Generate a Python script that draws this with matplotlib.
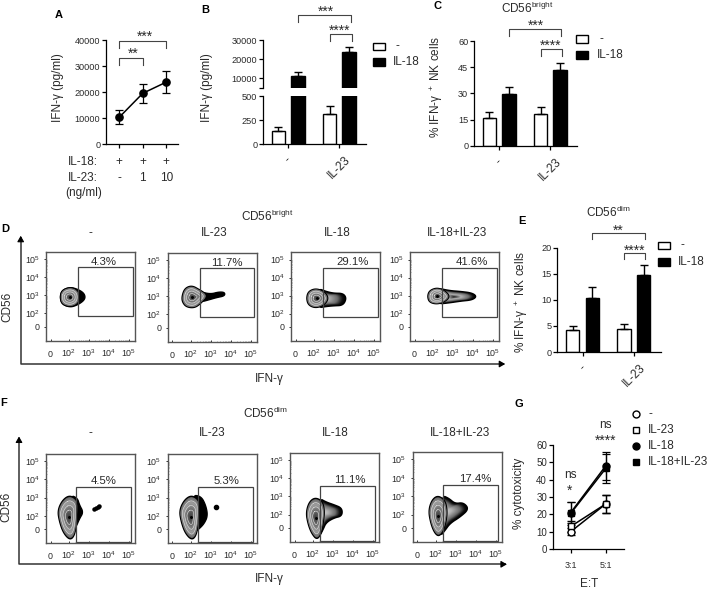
#!/usr/bin/env python3
"""Multi-panel IFN-gamma / NK cell figure: dose line, bar panels, flow contour grids, cytotoxicity."""
import numpy as np
import matplotlib
matplotlib.use("Agg")
import matplotlib.pyplot as plt
from matplotlib.patches import Rectangle

plt.rcParams["font.family"] = ["Liberation Sans", "DejaVu Sans"]
plt.rcParams["mathtext.default"] = "regular"
plt.rcParams["axes.unicode_minus"] = False
W, H = 708, 590
INK = "#2a2a2a"

# --- panel A
a_x = [0, 1, 2]
a_mean = [10300, 19500, 23800]
a_err = [2600, 3600, 4200]
a_il18 = ["+", "+", "+"]
a_il23 = ["-", "1", "10"]
# --- bar panels: (-, IL-18) at each of the two groups
groups = ["-", "IL-23"]
b_white, b_white_err = [135, 310], [40, 90]
b_black, b_black_err = [11300, 23500], [2200, 2900]
c_white, c_white_err = [15.8, 18.0], [3.7, 4.0]
c_black, c_black_err = [29.5, 43.5], [4.0, 4.0]
e_white, e_white_err = [4.2, 4.5], [0.8, 0.9]
e_black, e_black_err = [10.3, 14.8], [2.1, 1.9]
# --- panel G
g_x = [0, 1]
g_labels = ["3:1", "5:1"]
g_none, g_none_err = [10, 26], [2, 5]
g_il23, g_il23_err = [13, 26], [3, 5]
g_il18, g_il18_err = [21, 48], [6, 8]
g_both, g_both_err = [20.5, 46.5], [6.5, 8.5]
# --- flow panels, axes in decades
flow_titles = ["-", "IL-23", "IL-18", "IL-18+IL-23"]
d_pct = ["4.3%", "11.7%", "29.1%", "41.6%"]
f_pct = ["4.5%", "5.3%", "11.1%", "17.4%"]
d_gate = (2.47, 5.18, 1.83, 4.55)
f_gate = (2.37, 5.11, 0.55, 3.58)
d_pct_x = [3.73, 3.83, 3.95, 3.93]
f_pct_x = [3.73, 3.78, 3.85, 4.00]

d1_outer = ([1.55, 1.66, 2.05, 2.4, 2.72, 2.82, 2.72, 2.4, 2.05, 1.66], [2.9, 3.28, 3.45, 3.35, 3.15, 2.9, 2.68, 2.45, 2.33, 2.5])
d1_core = ([1.55, 1.64, 2.05, 2.42, 2.55, 2.42, 2.05, 1.64], [2.9, 3.28, 3.45, 3.3, 2.9, 2.5, 2.35, 2.5])
d2_outer = ([2.5, 3.0, 3.4, 3.7, 3.7, 3.3, 2.9, 2.5], [3.24, 3.12, 3.24, 3.22, 3.02, 2.93, 2.8, 2.68])
d2_core = ([1.56, 1.7, 2.05, 2.42, 2.88, 2.52, 2.2, 1.78, 1.58], [3.0, 3.44, 3.6, 3.38, 3.05, 2.62, 2.35, 2.4, 2.68])
d3_outer = ([2.2, 2.6, 3.0, 3.45, 3.62, 3.45, 3.0, 2.6, 2.2], [3.4, 3.22, 3.12, 3.12, 2.85, 2.46, 2.44, 2.4, 2.32])
d3_core = ([1.62, 1.72, 2.1, 2.52, 2.74, 2.52, 2.1, 1.72], [2.85, 3.24, 3.4, 3.22, 2.85, 2.48, 2.3, 2.46])
d4_outer = ([2.2, 2.8, 3.4, 3.95, 4.18, 3.95, 3.4, 2.8, 2.2], [3.42, 3.27, 3.22, 3.14, 2.95, 2.76, 2.7, 2.6, 2.53])
d4_core = ([1.72, 1.82, 2.2, 2.58, 2.86, 2.58, 2.2, 1.82], [2.95, 3.28, 3.44, 3.28, 2.95, 2.65, 2.52, 2.62])
f1_outer = ([2.05, 2.42, 2.52, 2.72, 2.52, 2.35, 2.05], [3.14, 2.98, 2.6, 2.2, 1.83, 1.38, 0.98])
f1_core = ([2.05, 1.68, 1.43, 1.52, 1.72, 2.05, 2.28, 2.38, 2.43, 2.43], [3.14, 2.88, 2.3, 1.68, 1.05, 0.66, 0.92, 1.6, 2.2, 2.84])
f2_outer = ([2.05, 2.52, 2.76, 2.85, 2.68, 2.42, 2.05], [3.14, 3.08, 2.56, 2.0, 1.58, 1.28, 0.98])
f3_outer = ([2.3, 2.65, 3.05, 3.45, 3.45, 3.05, 2.65, 2.5, 2.3], [2.9, 2.68, 2.53, 2.35, 1.92, 1.82, 1.56, 1.18, 0.76])
f3_core = ([2.1, 1.8, 1.65, 1.75, 1.93, 2.2, 2.42, 2.52, 2.58, 2.47], [2.94, 2.68, 2.1, 1.48, 0.96, 0.6, 0.98, 1.6, 2.2, 2.74])
f4_outer = ([2.3, 2.65, 2.97, 3.38, 3.66, 3.22, 2.72, 2.45, 2.2], [3.04, 2.88, 2.58, 2.65, 2.3, 1.87, 1.53, 1.12, 0.8])
f4_core = ([2.1, 1.8, 1.64, 1.75, 1.93, 2.15, 2.37, 2.52, 2.58, 2.47], [3.04, 2.78, 2.2, 1.53, 1.02, 0.8, 1.08, 1.6, 2.2, 2.78])
f1_dots_x, f1_dots_y = [3.25, 3.36, 3.47, 3.48], [2.36, 2.42, 2.48, 2.56]
f2_dots_x, f2_dots_y = [3.28], [2.5]


def px_axes(fig, left, top, right, bottom, **kw):
    return fig.add_axes([left / W, 1 - bottom / H, (right - left) / W, (bottom - top) / H], **kw)


def clean(ax):
    ax.spines["top"].set_visible(False)
    ax.spines["right"].set_visible(False)
    for s in ax.spines.values():
        s.set_linewidth(0.9)
    ax.tick_params(length=2.6, width=0.9, labelsize=6.6, pad=1.5, labelcolor=INK)
    ax.patch.set_alpha(0)


def bars(ax, white, white_err, black, black_err):
    x = np.arange(len(groups))
    kw = dict(width=0.26, edgecolor="black", linewidth=1.0, zorder=2,
              error_kw=dict(ecolor="black", elinewidth=1.0, capsize=2.6, capthick=1.0))
    ax.bar(x - 0.19, white, color="white", yerr=[[0, 0], white_err], **kw)
    ax.bar(x + 0.19, black, color="black", yerr=[[0, 0], black_err], **kw)
    ax.set_xticks(x)
    ax.set_xticklabels(groups, rotation=45, ha="center", va="top", fontsize=8.5)
    ax.tick_params(axis="x", pad=4.6)
    ax.set_xlim(-0.49, 1.52)


def smooth(xs, ys, n=3):
    p = np.column_stack([xs, ys], )
    for _ in range(n):
        q = np.roll(p, -1, axis=0)
        p = np.column_stack([0.75 * p + 0.25 * q, 0.25 * p + 0.75 * q]).reshape(-1, 2)
    return p


def fill_grad(ax, outline, anchor, knots, shades, steps=36):
    p = smooth(*outline)
    a = np.array(anchor)
    for t in np.linspace(1, 0.03, steps):
        g = float(np.interp(t, knots, shades))
        ax.fill(*(a + t * (p - a)).T, color=(g, g, g), lw=0, zorder=3)


def blob(ax, outer, core, anchor=None, c0=0.7):
    """Contour blob: black or shaded tail underneath, ringed core on top."""
    if anchor is None:
        ax.fill(*smooth(*outer).T, color="black", lw=1.0, zorder=3)
    else:
        ax.fill(*smooth(*outer).T, color="black", lw=1.2, zorder=3)
        fill_grad(ax, outer, anchor, [0, 0.35, 0.7, 0.9, 1], [c0, 0.7, 0.42, 0.06, 0])
    p = smooth(*core)
    peak = np.array([np.mean(core[0]), np.mean(core[1])])
    ax.fill(*p.T, color="black", lw=1.0, zorder=4)
    for t in np.linspace(0.96, 0.03, 30):
        g = float(np.interp(t, [0, 0.3, 0.7, 0.96], [0.22, 0.38, 0.62, 0.42]))
        ax.fill(*(peak + t * (p - peak)).T, color=(g, g, g), lw=0, zorder=4)
    for t in (0.78, 0.56, 0.34):
        ax.plot(*np.vstack([peak + t * (p - peak), peak + t * (p[0] - peak)]).T,
                color="#e4e4e4", lw=0.4, zorder=5)
    ax.plot(*peak, "o", color="black", ms=1.1, zorder=6)


def flow_panel(fig, box, ylim, gate, pct, pct_x, pct_y):
    ax = px_axes(fig, *box)
    ax.set_xlim(0.85, 5.315)
    ax.set_ylim(*ylim)
    for s in ax.spines.values():
        s.set_color("#555555")
        s.set_linewidth(1.0)
    ax.set_xticks([1.08, 2, 3, 4, 5])
    ax.set_xticklabels(["0", "$10^2$", "$10^3$", "$10^4$", "$10^5$"], va="baseline")
    ax.set_yticks([1.26, 2, 3, 4, 5])
    ax.set_yticklabels(["0", "$10^2$", "$10^3$", "$10^4$", "$10^5$"])
    minor = [d + np.log10(k) for d in (2, 3, 4) for k in range(2, 10)]
    ax.set_xticks(minor, minor=True)
    ax.set_yticks(minor, minor=True)
    ax.tick_params(which="major", length=1.4, width=0.7, color="#333", labelsize=6.4, labelcolor=INK)
    ax.tick_params(which="minor", length=0.8, width=0.4, color="#666")
    ax.tick_params(axis="x", which="major", direction="in", pad=11.2)
    ax.tick_params(axis="y", which="major", direction="out", pad=3.0)
    ax.tick_params(which="minor", direction="in")
    x0, x1, y0, y1 = gate
    ax.add_patch(Rectangle((x0, y0), x1 - x0, y1 - y0, fill=False, ec="#444444", lw=0.9, zorder=7))
    ax.text(pct_x, pct_y, pct, ha="center", va="center", fontsize=8.2, color=INK, zorder=8)
    return ax


def main():
    fig = plt.figure(figsize=(W / 100, H / 100), dpi=100, facecolor="white")

    # A
    ax = px_axes(fig, 106, 40, 178, 144)
    clean(ax)
    ax.errorbar(a_x, a_mean, yerr=a_err, fmt="-o", color="black", ms=5.2, lw=1.1,
                elinewidth=0.9, capsize=2.6, capthick=0.9)
    ax.set_xlim(-0.566, 2.5)
    ax.set_ylim(0, 40000)
    ax.set_yticks([0, 10000, 20000, 30000, 40000])
    ax.set_xticks(a_x)
    ax.set_xticklabels([])
    for i in a_x:
        ax.text(i, -0.17, a_il18[i], transform=ax.get_xaxis_transform(), ha="center", va="center", fontsize=8.5, color=INK)
        ax.text(i, -0.327, a_il23[i], transform=ax.get_xaxis_transform(), ha="center", va="center", fontsize=8.5, color=INK)

    # B, broken axis
    top = px_axes(fig, 263, 40, 366, 88)
    low = px_axes(fig, 263, 96, 366, 144)
    for ax in (top, low):
        clean(ax)
        bars(ax, b_white, b_white_err, b_black, b_black_err)
    top.set_ylim(5000, 30000)
    top.set_yticks([5000, 10000, 20000, 30000])
    top.set_yticklabels(["", "10000", "20000", "30000"])
    top.spines["bottom"].set_visible(False)
    top.tick_params(axis="x", bottom=False, labelbottom=False)
    low.set_ylim(0, 500)
    low.set_yticks([0, 250, 500])

    # C
    ax = px_axes(fig, 474, 41.3, 577, 145.7)
    clean(ax)
    bars(ax, c_white, c_white_err, c_black, c_black_err)
    ax.set_ylim(0, 60)
    ax.set_yticks([0, 15, 30, 45, 60])

    # E
    ax = px_axes(fig, 557.3, 247.7, 660.7, 352)
    clean(ax)
    bars(ax, e_white, e_white_err, e_black, e_black_err)
    ax.set_ylim(0, 20)
    ax.set_yticks([0, 5, 10, 15, 20])

    # G
    ax = px_axes(fig, 552.7, 445, 624, 549)
    clean(ax)
    ekw = dict(color="black", lw=1.1, elinewidth=0.9, capsize=2.8, capthick=0.9, ms=5)
    ax.errorbar(g_x, g_none, yerr=g_none_err, fmt="-o", mfc="white", mew=1.0, **ekw)
    ax.errorbar(g_x, g_il23, yerr=g_il23_err, fmt="-s", mfc="white", mew=1.0, **ekw)
    ax.errorbar(g_x, g_il18, yerr=g_il18_err, fmt="-o", **ekw)
    ax.errorbar(g_x, g_both, yerr=g_both_err, fmt="-s", **ekw)
    ax.set_xlim(-0.514, 1.52)
    ax.set_ylim(0, 60)
    ax.set_yticks([0, 10, 20, 30, 40, 50, 60])
    ax.set_xticks(g_x)
    ax.set_xticklabels(g_labels, fontsize=6.4)
    ax.tick_params(axis="x", pad=6)
    ax.tick_params(axis="y", labelsize=7)

    # D
    d_boxes = [(46, 251.7, 135.3, 341), (167.7, 252.7, 257, 342), (291, 252, 380.3, 341.3), (410, 252, 499.3, 341.3)]
    d_axes = [flow_panel(fig, b, (0.46, 5.42), d_gate, d_pct[i], d_pct_x[i], 4.85) for i, b in enumerate(d_boxes)]
    blob(d_axes[0], d1_outer, d1_core)
    blob(d_axes[1], d2_outer, d2_core)
    blob(d_axes[2], d3_outer, d3_core, anchor=(2.3, 2.85), c0=0.8)
    blob(d_axes[3], d4_outer, d4_core, anchor=(3.05, 2.93), c0=0.1)

    # F
    f_boxes = [(46, 454.3, 135.3, 543.3), (167.7, 454.3, 257, 543.3), (290, 453, 379.3, 542), (412.7, 452.3, 502, 542.3)]
    f_axes = [flow_panel(fig, b, (0.49, 5.38), f_gate, f_pct[i], f_pct_x[i], 3.91) for i, b in enumerate(f_boxes)]
    blob(f_axes[0], f1_outer, f1_core)
    f_axes[0].plot(f1_dots_x, f1_dots_y, "-o", color="black", ms=2.2, lw=1.0, zorder=5)
    blob(f_axes[1], f2_outer, f1_core)
    f_axes[1].plot(f2_dots_x, f2_dots_y, "o", color="black", ms=3, zorder=5)
    blob(f_axes[2], f3_outer, f3_core, anchor=(2.4, 2.1), c0=0.85)
    blob(f_axes[3], f4_outer, f4_core, anchor=(2.4, 2.15), c0=0.85)

    # overlay in picture pixels: labels, brackets, arrows, legends
    ov = fig.add_axes([0, 0, 1, 1], zorder=20)
    ov.set_xlim(0, W)
    ov.set_ylim(H, 0)
    ov.axis("off")

    def txt(x, y, s, size=8.5, ha="center", va="center", **kw):
        ov.text(x, y, s, fontsize=size, ha=ha, va=va, color=kw.pop("color", INK), **kw)

    def bracket(x0, x1, y, drop):
        ov.plot([x0, x0, x1, x1], [y + drop, y, y, y + drop], color="#444444", lw=0.8)

    def stars(x, y, n):
        ov.text(x, y + 6.2, "*" * n, fontsize=10, ha="center", va="baseline", color=INK)

    for x, y, s in [(58.3, 15, "A"), (205.7, 10, "B"), (437, 6, "C"), (5, 228.7, "D"),
                    (522, 220.7, "E"), (3.5, 403, "F"), (519.3, 404, "G")]:
        txt(x, y, s, size=8, fontweight="bold", color="black")

    txt(58.3, 88, "IFN-γ (pg/ml)", rotation=90)
    txt(206.7, 88, "IFN-γ (pg/ml)", rotation=90)
    txt(437, 87, "% IFN-γ $^+$ NK cells", rotation=90)
    txt(521.7, 301.7, "% IFN-γ $^+$ NK cells", rotation=90)
    txt(519.3, 493, "% cytotoxicity", rotation=90)
    txt(97.7, 161.7, "IL-18:", ha="right")
    txt(97.7, 178, "IL-23:", ha="right")
    txt(101.7, 193, "(ng/ml)", ha="right")
    txt(527, 8, "CD56$^{bright}$")
    txt(608.7, 212.7, "CD56$^{dim}$")
    txt(267, 216, "CD56$^{bright}$")
    txt(265, 413, "CD56$^{dim}$")

    for x, s in zip((90, 213.7, 337, 457.3), flow_titles):
        txt(x, 233, s)
    for x, s in zip((90.7, 212, 335, 460), flow_titles):
        txt(x, 433, s)

    txt(7.7, 306.7, "CD56", rotation=90)
    txt(6, 506.7, "CD56", rotation=90)
    txt(269, 379, "IFN-γ")
    txt(269, 579, "IFN-γ")
    txt(589.3, 584.3, "E:T")

    for x0, y0, xr, yt in [(20.7, 364, 506, 235), (19, 564.3, 507.7, 435.7)]:
        ov.plot([xr - 3, x0, x0], [y0, y0, yt + 3], color="#333333", lw=1.1)
        ov.annotate("", xy=(xr + 2, y0), xytext=(xr - 6, y0), arrowprops=dict(arrowstyle="-|>,head_width=0.2,head_length=0.35", color="black", lw=0.8))
        ov.annotate("", xy=(x0, yt - 2), xytext=(x0, yt + 6), arrowprops=dict(arrowstyle="-|>,head_width=0.2,head_length=0.35", color="black", lw=0.8))

    # brackets with stars
    bracket(119.3, 166, 40.7, 7); stars(145, 34.3, 3)
    bracket(119.3, 143.3, 58.3, 7); stars(133.3, 51.7, 2)
    bracket(297.7, 350.7, 15, 6.7); stars(326, 9.3, 3)
    bracket(330, 352, 34, 7); stars(340, 28.3, 4)
    bracket(509, 561.3, 29.3, 6.7); stars(535.7, 24, 3)
    bracket(541.3, 561.7, 48.7, 7); stars(551, 44, 4)
    bracket(592.3, 645, 232.7, 6.7); stars(618.3, 228.3, 2)
    bracket(624.3, 645.3, 252.7, 6.7); stars(634.7, 248.3, 4)
    txt(570, 475, "ns"); stars(570, 489, 1)
    txt(605.7, 425, "ns"); stars(605.7, 438.3, 4)

    # bar legends
    for x, y1, y2, tx in [(373, 46.5, 62, 393), (576, 38.8, 55, 597), (658.3, 245.5, 261.7, 678.3)]:
        ov.add_patch(Rectangle((x, y1 - 3.7), 11.7, 7.4, fc="white", ec="black", lw=1.0))
        ov.add_patch(Rectangle((x, y2 - 3.9), 11.7, 7.8, fc="black", ec="black", lw=1.0))
        txt(tx + 2, y1, "-", ha="left")
        txt(tx, y2, "IL-18", ha="left")

    # G legend
    leg_y = [414.3, 430, 446, 461.7]
    leg_txt = ["-", "IL-23", "IL-18", "IL-18+IL-23"]
    leg_mk = [("o", "white"), ("s", "white"), ("o", "black"), ("s", "black")]
    for y, s, (m, fc) in zip(leg_y, leg_txt, leg_mk):
        ov.plot([636.3], [y], m, mfc=fc, mec="black", mew=1.0, ms=5)
        txt(648.3, y, s, ha="left")

    fig.savefig("out.png", dpi=100)


if __name__ == "__main__":
    main()
